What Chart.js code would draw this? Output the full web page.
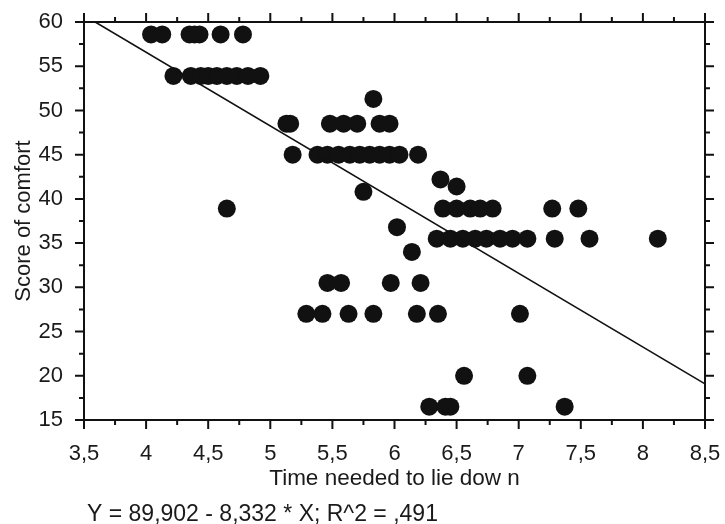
<!DOCTYPE html>
<html>
<head>
<meta charset="utf-8">
<script src="https://cdn.jsdelivr.net/npm/chart.js@4.4.0/dist/chart.umd.min.js"></script>
<style>
  html, body { margin: 0; padding: 0; background: #fff; }
  canvas { display: block; }
</style>
</head>
<body>
<canvas id="scatter" width="725" height="524"></canvas>
<script>
// time needed to lie down (x) and score of comfort (y)
const times = [
  4.04, 4.13, 4.35, 4.39, 4.43, 4.60, 4.78,
  4.22, 4.36, 4.44, 4.50, 4.57, 4.65, 4.73, 4.82, 4.92,
  5.83,
  5.13, 5.16, 5.48, 5.59, 5.70, 5.88, 5.96,
  5.18, 5.38, 5.46, 5.55, 5.64, 5.72, 5.80, 5.88, 5.96, 6.04, 6.19,
  6.37, 6.50, 5.75,
  4.65, 6.39, 6.50, 6.61, 6.69, 6.79, 7.27, 7.48,
  6.02,
  6.34, 6.45, 6.55, 6.65, 6.74, 6.85, 6.95, 7.07, 7.29, 7.57, 8.12,
  6.14,
  5.46, 5.57, 5.97, 6.21,
  5.29, 5.42, 5.63, 5.83, 6.18, 6.35, 7.01,
  6.56, 7.07,
  6.28, 6.41, 6.45, 7.37
];
const scores = [
  58.6, 58.6, 58.6, 58.6, 58.6, 58.6, 58.6,
  53.9, 53.9, 53.9, 53.9, 53.9, 53.9, 53.9, 53.9, 53.9,
  51.3,
  48.5, 48.5, 48.5, 48.5, 48.5, 48.5, 48.5,
  45, 45, 45, 45, 45, 45, 45, 45, 45, 45, 45,
  42.2, 41.4, 40.8,
  38.9, 38.9, 38.9, 38.9, 38.9, 38.9, 38.9, 38.9,
  36.8,
  35.5, 35.5, 35.5, 35.5, 35.5, 35.5, 35.5, 35.5, 35.5, 35.5, 35.5,
  34,
  30.5, 30.5, 30.5, 30.5,
  27, 27, 27, 27, 27, 27, 27,
  20, 20,
  16.5, 16.5, 16.5, 16.5
];
// fitted line end points
const fitX = [3.59, 8.5];
const fitY = [60, 19.08];
const equation = 'Y = 89,902 - 8,332 * X; R^2 = ,491';

const ink = '#111';
const font = { family: 'Liberation Sans, Arial, sans-serif', size: 22 };

// box frame with major/minor ticks on all four sides
const frameTicks = {
  id: 'frameTicks',
  afterDraw(chart) {
    const { ctx, chartArea: a, scales: { x, y } } = chart;
    ctx.save();
    ctx.strokeStyle = ink;
    ctx.lineWidth = 2;
    ctx.strokeRect(a.left, a.top, a.right - a.left, a.bottom - a.top);
    ctx.beginPath();
    for (let i = 0; i <= 20; i++) {
      const px = x.getPixelForValue(3.5 + i * 0.25);
      const len = i % 2 === 0 ? 9 : 5;
      ctx.moveTo(px, a.bottom); ctx.lineTo(px, a.bottom + len);
      ctx.moveTo(px, a.top); ctx.lineTo(px, a.top - len);
    }
    for (let i = 0; i <= 18; i++) {
      const py = y.getPixelForValue(15 + i * 2.5);
      const len = i % 2 === 0 ? 9 : 5;
      ctx.moveTo(a.left, py); ctx.lineTo(a.left - len, py);
      ctx.moveTo(a.right, py); ctx.lineTo(a.right + len, py);
    }
    ctx.stroke();
    ctx.fillStyle = '#1a1a1a';
    ctx.font = '23px ' + font.family;
    ctx.textBaseline = 'alphabetic';
    ctx.fillText(equation, 87, 521);
    ctx.restore();
  }
};

new Chart(document.getElementById('scatter'), {
  type: 'scatter',
  data: {
    datasets: [
      {
        data: times.map((t, i) => ({ x: t, y: scores[i] })),
        backgroundColor: ink,
        borderWidth: 0,
        pointRadius: 9,
        order: 2
      },
      {
        type: 'line',
        data: fitX.map((t, i) => ({ x: t, y: fitY[i] })),
        borderColor: ink,
        borderWidth: 1.6,
        pointRadius: 0,
        order: 1
      }
    ]
  },
  options: {
    responsive: false,
    animation: false,
    devicePixelRatio: 1,
    layout: { padding: { top: 22, right: 20, bottom: 0, left: 0 } },
    plugins: { legend: { display: false }, tooltip: { enabled: false } },
    scales: {
      x: {
        type: 'linear',
        min: 3.5, max: 8.5,
        afterFit(s) { s.height = 104; s.paddingLeft = 0; s.paddingRight = 0; },
        grid: { display: false, drawTicks: false },
        border: { display: false },
        ticks: {
          stepSize: 0.5, padding: 21, color: '#1a1a1a', font,
          maxRotation: 0, autoSkip: false,
          callback: v => String(v).replace('.', ',')
        },
        title: {
          display: true, text: 'Time needed to lie dow n', color: '#1a1a1a',
          font: { family: font.family, size: 22.5 },
          padding: { top: 0, bottom: 32 }
        }
      },
      y: {
        min: 15, max: 60,
        afterFit(s) { s.width = 84; s.paddingTop = 0; s.paddingBottom = 0; },
        grid: { display: false, drawTicks: false },
        border: { display: false },
        ticks: { stepSize: 5, padding: 21, color: '#1a1a1a', font },
        title: {
          display: true, text: 'Score of comfort', color: '#1a1a1a', font,
          padding: { top: 11, bottom: 0 }
        }
      }
    }
  },
  plugins: [frameTicks]
});
</script>
</body>
</html>
